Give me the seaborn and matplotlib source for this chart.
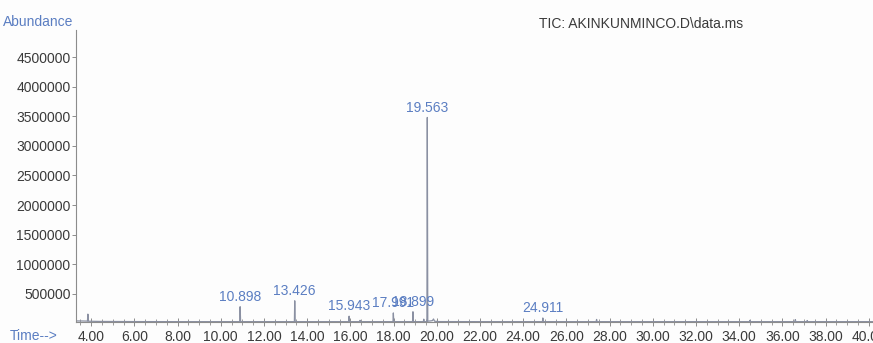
import matplotlib
matplotlib.use("Agg")
import matplotlib.pyplot as plt
from matplotlib.ticker import MultipleLocator, FixedLocator, FuncFormatter
import seaborn as sns
import pandas as pd

# Total ion chromatogram trace: retention time (min) and abundance
rt_min = [3.30, 3.60, 3.83, 3.85, 3.87, 4.50, 6.00, 8.00, 10.00,
          10.88, 10.898, 10.92, 12.00, 13.41, 13.426, 13.445, 15.00,
          15.93, 15.943, 15.96, 16.43, 16.45, 16.47, 17.975, 17.991, 18.01,
          18.88, 18.899, 18.92, 19.38, 19.40, 19.42, 19.545, 19.563, 19.585,
          19.70, 19.80, 19.85, 19.90, 20.10, 22.00, 24.895, 24.911, 24.93,
          25.30, 27.38, 27.40, 27.42, 30.00, 34.48, 34.50, 34.52, 36.58,
          36.60, 36.62, 37.13, 37.15, 37.17, 38.00, 40.60]
abundance = [45000, 44000, 42000, 160000, 40000, 36000, 34000, 33000, 33000,
             33000, 285000, 33000, 33000, 33000, 385000, 33000, 33000,
             33000, 125000, 33000, 33000, 55000, 33000, 33000, 180000, 33000,
             33000, 200000, 33000, 33000, 75000, 33000, 33000, 3480000, 40000,
             45000, 50000, 78000, 40000, 34000, 33000, 33000, 95000, 33000,
             33000, 33000, 70000, 33000, 33000, 33000, 55000, 33000, 33000,
             68000, 33000, 33000, 52000, 33000, 33000, 33000]

# Labelled peaks
peak_rt = [10.898, 13.426, 15.943, 17.991, 18.899, 19.563, 24.911]
peak_height = [285000, 385000, 125000, 180000, 200000, 3480000, 95000]

y_ticks = [500000, 1000000, 1500000, 2000000, 2500000,
           3000000, 3500000, 4000000, 4500000]
x_ticks = [4, 6, 8, 10, 12, 14, 16, 18, 20, 22, 24, 26, 28, 30,
           32, 34, 36, 38, 40]

title_text = "TIC: AKINKUNMINCO.D\\data.ms"

sns.set_theme(style="white")
plt.rcParams["font.family"] = ["Liberation Sans", "DejaVu Sans"]

blue = "#5b7ec2"
grey_text = "#3a3a3a"
axis_grey = "#8c8c8c"

fig = plt.figure(figsize=(8.73, 3.43), dpi=100)
fig.patch.set_facecolor("#fdfdfd")
ax = fig.add_axes([76 / 873, 1 - 322 / 343, 1 - 76 / 873 + 0.01, (322 - 30) / 343])
ax.set_facecolor("#fdfdfd")

df = pd.DataFrame({"rt": rt_min, "abundance": abundance})
sns.lineplot(data=df, x="rt", y="abundance", ax=ax, estimator=None, sort=False,
             color="#8a90a2", linewidth=0.9)

for t, h in zip(peak_rt, peak_height):
    ax.annotate(f"{t:.3f}", xy=(t, h), xytext=(0, 2), textcoords="offset points",
                ha="center", va="bottom", fontsize=10, color=blue)

ax.set_xlim(3.3, 40.6)
ax.set_ylim(27000, 4956000)

ax.yaxis.set_major_locator(FixedLocator(y_ticks))
ax.yaxis.set_major_formatter(FuncFormatter(lambda v, p: f"{int(v)}"))
ax.xaxis.set_major_locator(FixedLocator(x_ticks))
ax.xaxis.set_minor_locator(MultipleLocator(0.5))
ax.xaxis.set_major_formatter(FuncFormatter(lambda v, p: f"{v:.2f}"))

ax.tick_params(axis="y", which="major", direction="out", length=3, width=0.7,
               color=axis_grey, labelsize=10, labelcolor=grey_text, pad=1, left=True)
ax.tick_params(axis="x", which="major", direction="inout", length=6, width=0.7,
               color=axis_grey, labelsize=10, labelcolor=grey_text, pad=3, bottom=True)
ax.tick_params(axis="x", which="minor", direction="inout", length=4, width=0.6,
               color=axis_grey, bottom=True)

ax.set_xlabel("")
ax.set_ylabel("")
for side in ("top", "right"):
    ax.spines[side].set_visible(False)
for side in ("left", "bottom"):
    ax.spines[side].set_color(axis_grey)
    ax.spines[side].set_linewidth(0.8)

fig.text(3 / 873, 1 - 22 / 343, "Abundance", fontsize=10, color=blue,
         ha="left", va="center")
fig.text(10 / 873, 1 - 336 / 343, "Time-->", fontsize=10, color=blue,
         ha="left", va="center")
fig.text(539 / 873, 1 - 24 / 343, title_text, fontsize=10, color=grey_text,
         ha="left", va="center")

fig.savefig("out.png", dpi=100, facecolor=fig.get_facecolor())
